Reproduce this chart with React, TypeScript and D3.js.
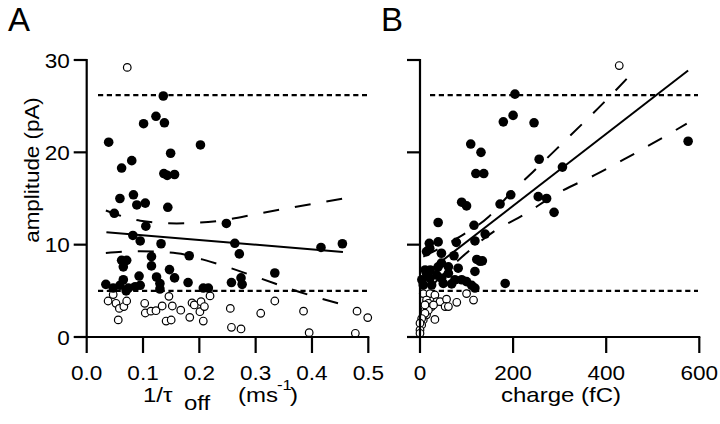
import React from "react";
import * as d3 from "d3";

// ---- tick values ----
const ampTicks = [0, 10, 20, 30];
const rateTicks = [0, 0.1, 0.2, 0.3, 0.4, 0.5];
const chargeTicks = [0, 200, 400, 600];
const thresholdLevels = [26.2, 5.0];

// ---- panel A: amplitude vs 1/tau_off ----
const rateFilled: [number, number][] = [
  [0.136, 26.1], [0.123, 23.9], [0.138, 23.2], [0.101, 23.1], [0.039, 21.1], [0.202, 20.8],
  [0.149, 19.9], [0.080, 19.1], [0.062, 18.3], [0.137, 17.7], [0.143, 17.5], [0.156, 17.6],
  [0.059, 15.0], [0.083, 15.4], [0.089, 14.3], [0.104, 14.5], [0.144, 14.05], [0.049, 13.4],
  [0.105, 12.0], [0.248, 12.3], [0.082, 11.0], [0.095, 10.4], [0.132, 10.1], [0.263, 10.15],
  [0.271, 9.0], [0.416, 9.7], [0.454, 10.1], [0.182, 8.8], [0.062, 8.3], [0.071, 8.3],
  [0.065, 7.6], [0.115, 8.7], [0.115, 7.7], [0.147, 7.3], [0.156, 6.4], [0.180, 5.9],
  [0.093, 6.6], [0.124, 6.5], [0.130, 5.8], [0.130, 5.2], [0.034, 5.7], [0.047, 5.3],
  [0.065, 6.2], [0.059, 5.6], [0.074, 5.3], [0.095, 5.6], [0.086, 5.45], [0.207, 5.3],
  [0.216, 5.3], [0.334, 6.93], [0.257, 5.9], [0.274, 6.4], [0.276, 5.7], [0.070, 5.0],
];
const rateOpen: [number, number][] = [
  [0.072, 29.2], [0.038, 3.9], [0.047, 4.6], [0.052, 3.65], [0.058, 3.1], [0.066, 3.3],
  [0.071, 3.9], [0.056, 1.85], [0.103, 3.65], [0.104, 2.6], [0.114, 2.8], [0.123, 2.85],
  [0.134, 3.36], [0.146, 4.4], [0.152, 3.36], [0.167, 2.9], [0.141, 1.73], [0.150, 1.84],
  [0.183, 2.13], [0.187, 3.7], [0.191, 3.47], [0.203, 3.83], [0.201, 2.74], [0.209, 3.3],
  [0.207, 1.73], [0.219, 4.45], [0.255, 3.1], [0.309, 2.57], [0.334, 3.9], [0.385, 2.8],
  [0.480, 2.8], [0.499, 2.1], [0.257, 1.05], [0.274, 0.87], [0.395, 0.47], [0.477, 0.4],
];
const rateFit: [number, number][] = [[0.035, 11.35], [0.455, 9.2]];
const rateUpper: [number, number][] = [
  [0.034, 13.7], [0.095, 12.6], [0.16, 12.3], [0.237, 12.6], [0.308, 13.4], [0.455, 15.0],
];
const rateLower: [number, number][] = [
  [0.034, 9.1], [0.095, 9.3], [0.16, 9.07], [0.219, 8.16], [0.308, 6.36], [0.367, 5.09], [0.455, 3.5],
];

// ---- panel B: amplitude vs charge ----
const chargeFilled: [number, number][] = [
  [204, 26.3], [200, 24.0], [179, 23.3], [245, 23.2], [109, 20.9], [131, 20.0], [120, 17.7],
  [137, 17.7], [256, 19.25], [306, 18.4], [576, 21.2], [195, 15.4], [254, 15.2], [272, 15.0],
  [172, 14.4], [89.5, 14.6], [100, 14.2], [288, 13.5], [39, 12.4], [116, 12.1], [140, 11.15],
  [118, 10.4], [78, 10.25], [20, 10.15], [39, 10.3], [21, 9.6], [14, 9.25], [46, 9.07],
  [73, 8.8], [122, 8.4], [134, 8.25], [61, 7.6], [46, 8.0], [118, 7.1], [22, 7.26],
  [11, 7.26], [39, 7.6], [82, 7.45], [14, 6.9], [21.5, 6.35], [36, 6.7], [46.5, 6.35],
  [61, 6.9], [75, 6.2], [89.5, 6.2], [100, 6.0], [111, 5.6], [118, 5.3], [50, 5.8],
  [68, 5.75], [7, 5.63], [25, 5.63], [4, 6.2], [183, 5.8], [129, 8.2],
];
const chargeOpen: [number, number][] = [
  [428, 29.4], [7, 4.7], [21.5, 4.7], [32, 4.55], [14, 4.0], [18, 3.65], [25, 3.3],
  [36, 3.83], [43, 3.83], [57, 4.1], [54, 3.3], [61, 3.3], [79, 3.76], [100, 4.7],
  [115, 4.0], [32, 1.9], [10.7, 2.9], [14, 2.4], [7, 1.84], [3.6, 1.3], [0, 0.76],
  [0, 0.4], [18, 2.9], [10.7, 3.47], [29, 3.47], [10.7, 2.57], [3.6, 2.0], [0, 1.5],
];
const chargeFit: [number, number][] = [[15, 6.99], [576, 28.86]];
const chargeUpper: [number, number][] = [
  [7, 8.7], [80, 10.7], [147, 13.0], [197, 15.7], [243, 17.9], [294, 20.4], [347, 23.0],
  [397, 25.5], [458, 28.7],
];
const chargeLower: [number, number][] = [
  [30, 5.8], [100, 9.1], [175, 11.95], [204, 12.7], [308, 15.9], [376, 17.55], [437, 19.2],
  [573, 23.1],
];

const FONT = "Liberation Sans, Arial, Helvetica, sans-serif";
const W = 720;
const H = 424;

const yScale = d3.scaleLinear().domain([0, 30]).range([337, 60]);
const xA = d3.scaleLinear().domain([0, 0.5]).range([86.7, 368.3]);
const xB = d3.scaleLinear().domain([0, 600]).range([420, 699.3]);

function WideText({
  x,
  y,
  size,
  sx = 1.1,
  anchor = "start",
  rotate = 0,
  children,
}: {
  x: number;
  y: number;
  size: number;
  sx?: number;
  anchor?: string;
  rotate?: number;
  children: React.ReactNode;
}) {
  return (
    <text
      transform={`translate(${x},${y}) rotate(${rotate}) scale(${sx},1)`}
      textAnchor={anchor}
      fontSize={size}
      fontFamily={FONT}
      fill="#000"
    >
      {children}
    </text>
  );
}

function Panel({
  x,
  xTicks,
  tickFmt,
  filled,
  open,
  fit,
  upper,
  lower,
  showYLabels,
  dotRange,
}: {
  x: d3.ScaleLinear<number, number>;
  xTicks: number[];
  tickFmt: (v: number) => string;
  filled: [number, number][];
  open: [number, number][];
  fit: [number, number][];
  upper: [number, number][];
  lower: [number, number][];
  showYLabels: boolean;
  dotRange: [number, number];
}) {
  const x0 = x.range()[0];
  const x1 = x.range()[1];
  const y0 = yScale(0);
  const line = d3
    .line<[number, number]>()
    .x((d) => x(d[0]))
    .y((d) => yScale(d[1]));
  const curve = d3
    .line<[number, number]>()
    .x((d) => x(d[0]))
    .y((d) => yScale(d[1]))
    .curve(d3.curveMonotoneX);
  return (
    <g>
      {thresholdLevels.map((lv) => (
        <line
          key={lv}
          x1={dotRange[0]}
          x2={dotRange[1]}
          y1={yScale(lv)}
          y2={yScale(lv)}
          stroke="#000"
          strokeWidth={2.2}
          strokeDasharray="5.2,3.6"
        />
      ))}
      {open.map((d, i) => (
        <circle key={"o" + i} cx={x(d[0])} cy={yScale(d[1])} r={3.8} fill="#fff" stroke="#000" strokeWidth={1.2} />
      ))}
      {filled.map((d, i) => (
        <circle key={"f" + i} cx={x(d[0])} cy={yScale(d[1])} r={4.8} fill="#000" />
      ))}
      <path d={line(fit) || ""} fill="none" stroke="#000" strokeWidth={2} />
      <path d={curve(upper) || ""} fill="none" stroke="#000" strokeWidth={2} strokeDasharray="16,16" />
      <path d={curve(lower) || ""} fill="none" stroke="#000" strokeWidth={2} strokeDasharray="16,16" />
      <line x1={x0} x2={x0} y1={yScale(30) - 1} y2={y0 + 1} stroke="#000" strokeWidth={2.2} />
      {ampTicks.map((t) => (
        <g key={"yt" + t}>
          <line x1={x0 - 13} x2={x0} y1={yScale(t)} y2={yScale(t)} stroke="#000" strokeWidth={2.2} />
          {showYLabels && (
            <WideText x={x0 - 17} y={yScale(t) + 7.5} size={20.5} anchor="end">
              {t}
            </WideText>
          )}
        </g>
      ))}
      <line x1={x0} x2={x1 + 1} y1={y0} y2={y0} stroke="#000" strokeWidth={2.2} />
      {xTicks.map((t) => (
        <g key={"xt" + t}>
          <line x1={x(t)} x2={x(t)} y1={y0} y2={y0 + 16} stroke="#000" strokeWidth={2.2} />
          <WideText x={x(t)} y={380} size={20.5} anchor="middle">
            {tickFmt(t)}
          </WideText>
        </g>
      ))}
    </g>
  );
}

export default function App() {
  return (
    <svg width={W} height={H} style={{ position: "absolute", left: 0, top: 0, background: "#fff" }} fontFamily={FONT}>
      <rect x={0} y={0} width={W} height={H} fill="#fff" />
      <text x={8} y={31} fontSize={33} fontFamily={FONT}>A</text>
      <text x={381} y={31} fontSize={33} fontFamily={FONT}>B</text>
      <Panel
        x={xA}
        xTicks={rateTicks}
        tickFmt={(v) => v.toFixed(1)}
        filled={rateFilled}
        open={rateOpen}
        fit={rateFit}
        upper={rateUpper}
        lower={rateLower}
        showYLabels={true}
        dotRange={[98, 367]}
      />
      <Panel
        x={xB}
        xTicks={chargeTicks}
        tickFmt={(v) => String(v)}
        filled={chargeFilled}
        open={chargeOpen}
        fit={chargeFit}
        upper={chargeUpper}
        lower={chargeLower}
        showYLabels={false}
        dotRange={[430, 698]}
      />
      <WideText x={39} y={170} size={20} sx={1.12} anchor="middle" rotate={-90}>
        amplitude (pA)
      </WideText>
      <WideText x={143} y={402} size={20} sx={1.2}>1/τ</WideText>
      <WideText x={184} y={410} size={20} sx={1.2}>off</WideText>
      <WideText x={238} y={402} size={20} sx={1.2}>(ms</WideText>
      <WideText x={277} y={390} size={14} sx={1.2}>-1</WideText>
      <WideText x={290} y={402} size={20} sx={1.2}>)</WideText>
      <WideText x={561} y={402} size={20} sx={1.2} anchor="middle">
        charge (fC)
      </WideText>
    </svg>
  );
}
